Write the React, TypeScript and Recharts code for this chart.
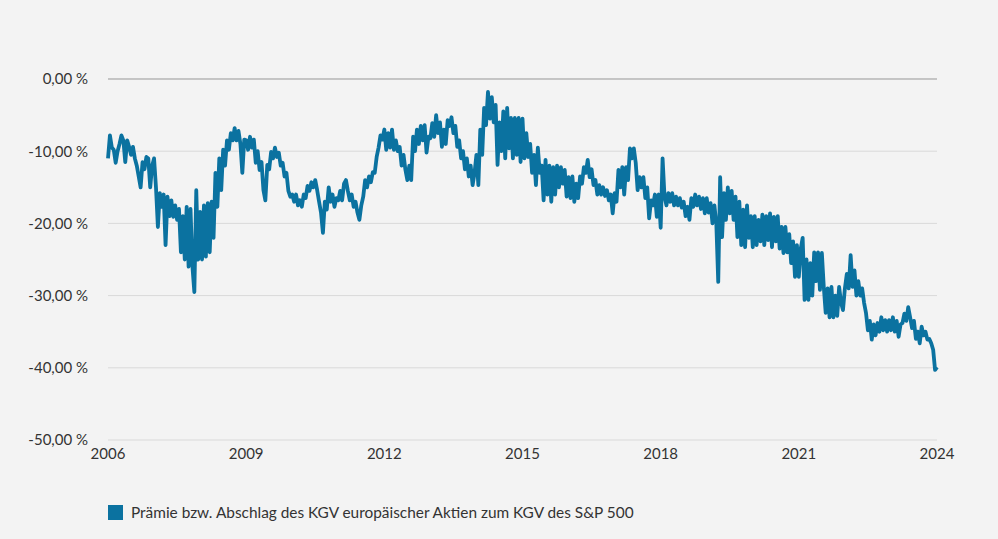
import React from 'react';
import { LineChart, Line, XAxis, YAxis, CartesianGrid, ReferenceLine } from 'recharts';

// Prämie/Abschlag KGV Europa vs. S&P 500, halbmonatliche Werte je Jahr (in %)
const y2006 = [-11, -7.8, -9.5, -9.8, -11.6, -10, -9, -7.8, -8.5, -11.5, -8.5, -9.4, -10.5, -9.4, -11, -12, -13.5, -15, -11.5, -12.5, -10.8, -11, -15, -12];
const y2007 = [-11, -15, -20.5, -15.8, -17.7, -16, -23, -16.3, -19, -16.8, -19.1, -17.5, -19.5, -18, -24, -19, -25, -17.7, -26, -18, -26, -29.5, -15.4, -25];
const y2008 = [-18.4, -25, -17.5, -24.6, -17.2, -24, -17, -22, -13, -17.7, -11, -15.4, -9.8, -12, -8.5, -9.8, -7.5, -8.5, -6.8, -8.5, -7.2, -9, -13, -8.4];
const y2009 = [-8.5, -9.8, -8, -9.5, -8.4, -11.6, -10, -12.6, -11.5, -15.4, -16.8, -11.9, -12.5, -10.1, -11, -9.5, -10.8, -10.2, -12, -11.6, -13.5, -13, -15.5, -16.3];
const y2010 = [-16, -17, -16, -17.5, -16.8, -17.7, -16, -16.5, -14.8, -15.5, -14.3, -15, -14, -15.4, -17, -18.5, -21.3, -17, -18.1, -15, -17, -16, -17.7, -16.5];
const y2011 = [-16.8, -15.5, -16.8, -14.5, -14, -15.5, -16.8, -16, -17.7, -17, -18.5, -19.5, -17.5, -16.3, -14, -15, -13.5, -14.3, -12.9, -13, -10.8, -9.5, -7.8, -8.4];
const y2012 = [-7, -9.8, -7.5, -9.5, -7, -9.8, -8.5, -10, -9.4, -12, -10.5, -12.6, -14, -12, -14, -8, -10, -7, -9, -6.5, -8.5, -6.4, -10.2, -8];
const y2013 = [-8.2, -6.1, -8, -5, -7.5, -6, -9.4, -7, -9, -5.7, -6.5, -5.3, -7.5, -6.5, -9.4, -8.5, -11, -10, -12.5, -11, -13.5, -12, -14.7, -13];
const y2014 = [-10.5, -14.7, -7, -10.5, -4, -6.4, -1.8, -5.5, -2.5, -6, -3.6, -11.9, -6, -10, -4.5, -11, -4, -9.6, -5.4, -11, -5.4, -10.5, -5.4, -11.5];
const y2015 = [-5.5, -11, -7.5, -10.8, -9, -13, -10.5, -14.7, -9.5, -13, -12, -16.8, -11.2, -16, -12, -17, -12.2, -16, -12, -15, -12.2, -14.5, -12.6, -16.3];
const y2016 = [-13.6, -16.5, -13.5, -17, -14.5, -16.5, -13.5, -14.5, -12.2, -13, -11.2, -13.6, -12.5, -14.7, -14, -16, -14.7, -16, -15, -16.2, -15.4, -16.8, -16, -18.6];
const y2017 = [-15.8, -17, -12.6, -15, -12.2, -16, -12.2, -14, -9.6, -11, -9.6, -11.6, -15.4, -13.6, -15, -13.6, -16.5, -15, -19.3, -16.8, -17.5, -16, -19.1, -16];
const y2018 = [-20.6, -11, -16.3, -17.5, -15.8, -17, -15.8, -17.5, -16.3, -17.5, -16.5, -17.8, -17, -19, -17.7, -19.5, -16.5, -17.7, -16, -17.5, -16.3, -18, -16.5, -18.6];
const y2019 = [-16.5, -18.5, -17.2, -20, -17.5, -20, -28.1, -13.6, -21.9, -15.8, -19.5, -15, -18.6, -15.5, -19.5, -16.3, -21.9, -17, -23, -18.1, -23.3, -17.5, -22, -19];
const y2020 = [-23.3, -19, -23, -19.5, -22.5, -18.8, -23, -19, -22.3, -18.6, -23.3, -19.1, -22.5, -19, -23.5, -20.5, -24.1, -20.5, -24, -21.5, -25.5, -22.5, -27.4, -23];
const y2021 = [-27.4, -23.5, -22, -30.6, -25, -30.6, -25.5, -30, -24, -28, -24, -29.2, -24.1, -28.8, -32.4, -29, -33, -28.8, -33, -30, -32.8, -28.8, -31, -32];
const y2022 = [-29, -27, -29, -24.4, -28.8, -26.5, -30, -28, -30, -29, -31, -32.4, -34.8, -33.5, -36.1, -34, -35.5, -33.8, -35, -33, -34.8, -33.4, -35, -33.4];
const y2023 = [-34.8, -33, -35, -33.5, -35.7, -34, -33.8, -32.5, -33.5, -31.6, -33, -34.5, -33.5, -36, -35, -36.6, -34.3, -35.5, -35, -36.1, -36, -36.6, -37.5, -40.3];
const lastValue = -39.9;

const years = [2006, 2007, 2008, 2009, 2010, 2011, 2012, 2013, 2014, 2015, 2016, 2017, 2018, 2019, 2020, 2021, 2022, 2023];
const yearValues = [y2006, y2007, y2008, y2009, y2010, y2011, y2012, y2013, y2014, y2015, y2016, y2017, y2018, y2019, y2020, y2021, y2022, y2023];

const xTicks = [2006, 2009, 2012, 2015, 2018, 2021, 2024];
const yTicks = [0, -10, -20, -30, -40, -50];

const seriesName = 'Prämie bzw. Abschlag des KGV europäischer Aktien zum KGV des S&P 500';
const lineColor = '#0b72a0';
const font = 'Lato, "Open Sans", sans-serif';

const data: { t: number; v: number }[] = [];
years.forEach((yr, k) => {
    const vals = yearValues[k];
    vals.forEach((v, i) => data.push({ t: yr + i / vals.length, v }));
});
data.push({ t: 2024, v: lastValue });

const fmt = (v: number) => v.toFixed(2).replace('.', ',') + ' %';

const App: React.FC = () => {
    return (
        <div
            style={{
                position: 'fixed',
                left: 0,
                top: 0,
                width: 998,
                height: 539,
                background: '#f3f3f3',
                fontFamily: font,
            }}
        >
            <LineChart width={998} height={539} data={data} margin={{ top: 79, right: 61, left: 0, bottom: 69 }}>
                <CartesianGrid vertical={false} stroke="#d9d9d9" strokeWidth={1} />
                <ReferenceLine y={0} stroke="#a3a3a3" strokeWidth={1} />
                <XAxis
                    dataKey="t"
                    type="number"
                    domain={[2006, 2024]}
                    ticks={xTicks}
                    axisLine={false}
                    tickLine={false}
                    tickMargin={2}
                    height={30}
                    interval={0}
                    tick={{ fill: '#333', fontSize: 15, fontFamily: font }}
                />
                <YAxis
                    type="number"
                    domain={[-50, 0]}
                    ticks={yTicks}
                    width={108}
                    axisLine={false}
                    tickLine={false}
                    tickMargin={14}
                    interval={0}
                    tickFormatter={fmt}
                    tick={{ fill: '#333', fontSize: 15, fontFamily: font }}
                />
                <Line
                    type="linear"
                    dataKey="v"
                    name={seriesName}
                    stroke={lineColor}
                    strokeWidth={3.8}
                    strokeLinejoin="round"
                    dot={false}
                    isAnimationActive={false}
                />
            </LineChart>
            <div
                style={{
                    position: 'absolute',
                    left: 108,
                    top: 503,
                    display: 'flex',
                    alignItems: 'center',
                    fontSize: 15.4,
                    color: '#333',
                }}
            >
                <span style={{ display: 'inline-block', width: 15, height: 15, background: lineColor, marginRight: 8 }} />
                <span>{seriesName}</span>
            </div>
        </div>
    );
};

export default App;
